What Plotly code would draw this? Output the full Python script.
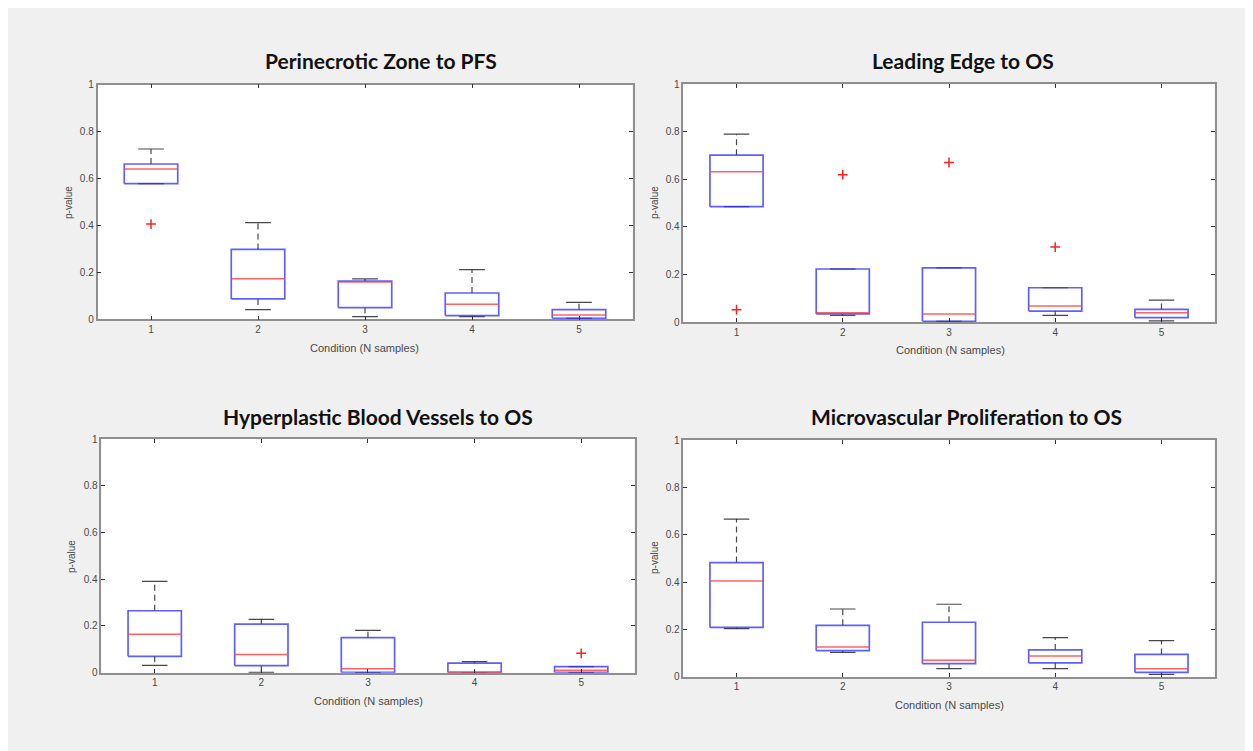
import plotly.graph_objects as go

W, H = 1253, 751
OFF = 8  # page body margin: the figure starts 8px in from the window corner

# ---------------- data ----------------
conditions = [1, 2, 3, 4, 5]
x_tick_labels = ["1", "2", "3", "4", "5"]
y_tick_vals = [0, 0.2, 0.4, 0.6, 0.8, 1]
y_tick_labels = ["0", "0.2", "0.4", "0.6", "0.8", "1"]

titles = [
    "Perinecrotic Zone to PFS",
    "Leading Edge to OS",
    "Hyperplastic Blood Vessels to OS",
    "Microvascular Proliferation to OS",
]

# Panel 1: Perinecrotic Zone to PFS
p1_q1 = [0.578, 0.087, 0.050, 0.016, 0.004]
p1_med = [0.641, 0.173, 0.159, 0.064, 0.018]
p1_q3 = [0.662, 0.298, 0.163, 0.112, 0.041]
p1_lo = [0.578, 0.041, 0.011, 0.011, 0.004]
p1_hi = [0.726, 0.412, 0.172, 0.212, 0.072]
p1_out_x = [1]
p1_out_y = [0.406]

# Panel 2: Leading Edge to OS
p2_q1 = [0.485, 0.034, 0.003, 0.046, 0.018]
p2_med = [0.632, 0.039, 0.034, 0.067, 0.039]
p2_q3 = [0.702, 0.223, 0.228, 0.144, 0.053]
p2_lo = [0.485, 0.028, 0.003, 0.028, 0.005]
p2_hi = [0.790, 0.223, 0.228, 0.144, 0.092]
p2_out_x = [1, 2, 3, 4]
p2_out_y = [0.052, 0.620, 0.671, 0.315]

# Panel 3: Hyperplastic Blood Vessels to OS
p3_q1 = [0.070, 0.030, 0.001, 0.001, 0.001]
p3_med = [0.165, 0.078, 0.017, 0.002, 0.010]
p3_q3 = [0.265, 0.208, 0.150, 0.041, 0.026]
p3_lo = [0.031, 0.001, 0.000, 0.000, 0.000]
p3_hi = [0.391, 0.228, 0.181, 0.047, 0.026]
p3_out_x = [5]
p3_out_y = [0.083]

# Panel 4: Microvascular Proliferation to OS
p4_q1 = [0.208, 0.110, 0.055, 0.058, 0.018]
p4_med = [0.404, 0.125, 0.070, 0.087, 0.034]
p4_q3 = [0.482, 0.217, 0.230, 0.113, 0.094]
p4_lo = [0.203, 0.103, 0.034, 0.034, 0.010]
p4_hi = [0.666, 0.286, 0.306, 0.165, 0.152]
p4_out_x = []
p4_out_y = []

panels = [
    (p1_q1, p1_med, p1_q3, p1_lo, p1_hi, p1_out_x, p1_out_y),
    (p2_q1, p2_med, p2_q3, p2_lo, p2_hi, p2_out_x, p2_out_y),
    (p3_q1, p3_med, p3_q3, p3_lo, p3_hi, p3_out_x, p3_out_y),
    (p4_q1, p4_med, p4_q3, p4_lo, p4_hi, p4_out_x, p4_out_y),
]

# ---------------- layout geometry (window pixels) ----------------
frames = [
    (97.5, 632.5, 84.7, 319.3),
    (683.4, 1214.6, 84.3, 322.0),
    (101.4, 634.5, 439.0, 672.7),
    (683.4, 1214.6, 440.0, 676.7),
]
title_pos = [(381, 60), (963, 60), (378, 416), (966, 416)]
ylab_pos = [(68, 203), (654, 203), (71, 557), (654, 558)]
xlab_pos = [(365, 348), (950, 350), (368, 701), (949, 705)]

BOX_HALF = 0.25
CAP_HALF = 0.12

BOX_COLOR = "rgba(50,50,255,0.78)"
MED_COLOR = "rgba(255,70,70,0.85)"
WHISK_COLOR = "rgba(40,40,40,0.85)"
OUT_COLOR = "#ff2020"
FRAME_COLOR = "#8f8f8f"
TEXT_COLOR = "#4a4a4a"


def px(x):
    return (x - OFF) / W


def py(y):
    return 1 - (y - OFF) / H


fig = go.Figure()

for k, (q1, med, q3, lo, hi, ox, oy) in enumerate(panels):
    xa = "x" if k == 0 else f"x{k+1}"
    ya = "y" if k == 0 else f"y{k+1}"

    # whiskers (dashed)
    wx, wy = [], []
    for c, a, b in zip(conditions, q3, hi):
        if b > a:
            wx += [c, c, None]
            wy += [a, b, None]
    for c, a, b in zip(conditions, q1, lo):
        if a > b:
            wx += [c, c, None]
            wy += [a, b, None]
    fig.add_trace(go.Scatter(x=wx, y=wy, mode="lines", xaxis=xa, yaxis=ya,
                             line=dict(color=WHISK_COLOR, width=1.2, dash="6px,4px"),
                             showlegend=False, hoverinfo="skip"))

    # caps
    cx, cy = [], []
    for c, a, b in zip(conditions, lo, hi):
        cx += [c - CAP_HALF, c + CAP_HALF, None, c - CAP_HALF, c + CAP_HALF, None]
        cy += [b, b, None, a, a, None]
    fig.add_trace(go.Scatter(x=cx, y=cy, mode="lines", xaxis=xa, yaxis=ya,
                             line=dict(color=WHISK_COLOR, width=1.2),
                             showlegend=False, hoverinfo="skip"))

    # boxes
    bx, by = [], []
    for c, a, b in zip(conditions, q1, q3):
        bx += [c - BOX_HALF, c + BOX_HALF, c + BOX_HALF, c - BOX_HALF, c - BOX_HALF, None]
        by += [a, a, b, b, a, None]
    fig.add_trace(go.Scatter(x=bx, y=by, mode="lines", xaxis=xa, yaxis=ya,
                             line=dict(color=BOX_COLOR, width=1.7),
                             showlegend=False, hoverinfo="skip"))

    # medians
    mx, my = [], []
    for c, m in zip(conditions, med):
        mx += [c - BOX_HALF, c + BOX_HALF, None]
        my += [m, m, None]
    fig.add_trace(go.Scatter(x=mx, y=my, mode="lines", xaxis=xa, yaxis=ya,
                             line=dict(color=MED_COLOR, width=1.5),
                             showlegend=False, hoverinfo="skip"))

    # outliers
    if ox:
        fig.add_trace(go.Scatter(x=ox, y=oy, mode="markers", xaxis=xa, yaxis=ya,
                                 marker=dict(symbol="cross-thin", size=7,
                                             line=dict(color=OUT_COLOR, width=1.5)),
                                 showlegend=False, hoverinfo="skip"))

layout = dict(
    width=W, height=H,
    margin=dict(l=0, r=0, t=0, b=0),
    paper_bgcolor="#f0f0f0",
    plot_bgcolor="#ffffff",
    showlegend=False,
    font=dict(family="Liberation Sans, Arial, sans-serif", color=TEXT_COLOR, size=10),
)

annotations = []
for k, (l, r, t, b) in enumerate(frames):
    xs = "xaxis" if k == 0 else f"xaxis{k+1}"
    ys = "yaxis" if k == 0 else f"yaxis{k+1}"
    anchor_x = "y" if k == 0 else f"y{k+1}"
    anchor_y = "x" if k == 0 else f"x{k+1}"
    layout[xs] = dict(
        domain=[px(l), px(r)], anchor=anchor_x, range=[0.5, 5.5],
        tickvals=conditions, ticktext=x_tick_labels,
        ticks="inside", ticklen=4, tickwidth=1.2, tickcolor="#333333",
        showline=True, linecolor=FRAME_COLOR, linewidth=1.5, mirror="ticks",
        showgrid=False, zeroline=False, fixedrange=True, automargin=False,
        tickfont=dict(size=10, color=TEXT_COLOR),
    )
    layout[ys] = dict(
        domain=[py(b), py(t)], anchor=anchor_y, range=[0, 1],
        tickvals=y_tick_vals, ticktext=y_tick_labels,
        ticks="inside", ticklen=4, tickwidth=1.2, tickcolor="#333333",
        showline=True, linecolor=FRAME_COLOR, linewidth=1.5, mirror="ticks",
        showgrid=False, zeroline=False, fixedrange=True, automargin=False,
        tickfont=dict(size=10, color=TEXT_COLOR),
    )
    tx, ty = title_pos[k]
    annotations.append(dict(
        x=px(tx), y=py(ty), xref="paper", yref="paper", xanchor="center", yanchor="middle",
        text="<b>" + titles[k] + "</b>", showarrow=False,
        font=dict(family="Lato, Open Sans, sans-serif", size=21, color="#111111"),
    ))
    lx, ly = ylab_pos[k]
    annotations.append(dict(
        x=px(lx), y=py(ly), xref="paper", yref="paper", xanchor="center", yanchor="middle",
        text="p-value", textangle=-90, showarrow=False,
        font=dict(size=10, color=TEXT_COLOR),
    ))
    cx_, cy_ = xlab_pos[k]
    annotations.append(dict(
        x=px(cx_), y=py(cy_), xref="paper", yref="paper", xanchor="center", yanchor="middle",
        text="Condition (N samples)", showarrow=False,
        font=dict(size=11, color=TEXT_COLOR),
    ))

layout["annotations"] = annotations

fig.update_layout(**layout)
fig.write_html("out.html")
